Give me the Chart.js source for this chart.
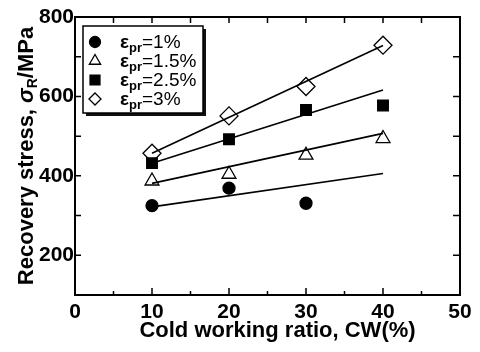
<!DOCTYPE html>
<html>
<head>
<meta charset="utf-8">
<script src="https://cdn.jsdelivr.net/npm/chart.js@4/dist/chart.umd.min.js"></script>
<style>
  html, body { margin: 0; padding: 0; background: #fff; }
  #wrap { width: 480px; height: 352px; }
</style>
</head>
<body>
<div id="wrap"><canvas id="c" width="480" height="352"></canvas></div>
<script>
// ---- data ----
const cw = [10, 20, 30, 40];
const eps1 = [325, 369, 331, null];
const eps15 = [387, 404, 452, 494];
const eps25 = [432, 492, 566, 577];
const eps3 = [457, 551, 625, 729];
const fitX = [10, 40];
const fit1 = [322, 406];
const fit15 = [381, 507];
const fit25 = [432, 616];
const fit3 = [457, 728];
const legendValues = ['1%', '1.5%', '2.5%', '3%'];
const xTickValues = [0, 10, 20, 30, 40, 50];
const yTickLabels = [200, 400, 600, 800];
const xTitle = 'Cold working ratio, CW(%)';

const FONT = '"Liberation Sans", Arial, Helvetica, sans-serif';

function pts(xs, ys) {
  const out = [];
  xs.forEach((x, i) => { if (ys[i] !== null && ys[i] !== undefined) out.push({x: x, y: ys[i]}); });
  return out;
}

const markerSets = [
  {label: legendValues[0], data: pts(cw, eps1), pointStyle: 'circle', pointRadius: 6, bg: '#000', lr: 5.5},
  {label: legendValues[1], data: pts(cw, eps15), pointStyle: 'triangle', pointRadius: 8, bg: '#fff', lr: 6.5},
  {label: legendValues[2], data: pts(cw, eps25), pointStyle: 'rect', pointRadius: 7.5, bg: '#000', lr: 7},
  {label: legendValues[3], data: pts(cw, eps3), pointStyle: 'rectRot', pointRadius: 9, bg: '#fff', lr: 6}
];
const fitSets = [fit1, fit15, fit25, fit3];

const datasets = [];
fitSets.forEach(f => {
  datasets.push({
    label: 'fit', data: pts(fitX, f), showLine: true, borderColor: '#000', borderWidth: 1.6,
    pointRadius: 0, fill: false, isFit: true
  });
});
markerSets.forEach(m => {
  datasets.push({
    label: m.label, data: m.data, showLine: false, pointStyle: m.pointStyle,
    pointRadius: m.pointRadius, pointBackgroundColor: m.bg, pointBorderColor: '#000',
    pointBorderWidth: 1.3, legendRadius: m.lr
  });
});

function drawMarker(ctx, style, r, x, y, bg) {
  ctx.save();
  ctx.fillStyle = bg; ctx.strokeStyle = '#000'; ctx.lineWidth = 1.3;
  if (Chart.helpers && Chart.helpers.drawPoint) {
    Chart.helpers.drawPoint(ctx, {pointStyle: style, radius: r, rotation: 0, borderWidth: 1.3}, x, y);
  }
  ctx.restore();
}

const framePlugin = {
  id: 'frame',
  afterDraw(chart) {
    const {ctx, chartArea: a, scales: {x, y}} = chart;
    ctx.save();
    ctx.strokeStyle = '#000';
    ctx.lineWidth = 1.5;
    for (let v = 0; v <= 50; v += 5) {
      const px = x.getPixelForValue(v);
      const major = v % 10 === 0;
      ctx.beginPath();
      ctx.moveTo(px, a.bottom); ctx.lineTo(px, a.bottom - (major ? 7 : 4));
      ctx.moveTo(px, a.top); ctx.lineTo(px, a.top + 6);
      ctx.stroke();
    }
    for (let v = 100; v <= 800; v += 100) {
      const py = y.getPixelForValue(v);
      ctx.beginPath();
      ctx.moveTo(a.left, py); ctx.lineTo(a.left + 6, py);
      ctx.moveTo(a.right, py); ctx.lineTo(a.right - 7, py);
      ctx.stroke();
    }
    ctx.lineWidth = 2;
    ctx.strokeRect(a.left, a.top, a.width, a.height);

    // legend box
    const bx = a.left + 8, by = a.top + 9, bw = 120, bh = 87;
    ctx.fillStyle = '#111';
    ctx.fillRect(bx + 3, by + 3, bw, bh);
    ctx.fillStyle = '#fff';
    ctx.fillRect(bx, by, bw, bh);
    ctx.lineWidth = 1.5;
    ctx.strokeStyle = '#000';
    ctx.strokeRect(bx, by, bw, bh);
    const mds = chart.data.datasets.filter(d => !d.isFit);
    mds.forEach((d, i) => {
      const ry = by + 16 + i * 19;
      drawMarker(ctx, d.pointStyle, d.legendRadius, bx + 12, ry, d.pointBackgroundColor);
      ctx.fillStyle = '#000';
      ctx.textBaseline = 'alphabetic';
      ctx.textAlign = 'left';
      let tx = bx + 37;
      const base = ry + 6;
      ctx.font = 'bold 19px ' + FONT;
      ctx.fillText('ε', tx, base); tx += ctx.measureText('ε').width;
      ctx.font = 'bold 13px ' + FONT;
      ctx.fillText('pr', tx, base + 4); tx += ctx.measureText('pr').width;
      ctx.font = '19px ' + FONT;
      ctx.fillText('=' + d.label, tx, base);
    });

    // x-axis title
    ctx.font = 'bold 22px ' + FONT;
    ctx.fillStyle = '#000';
    ctx.textAlign = 'center';
    ctx.textBaseline = 'middle';
    ctx.fillText(xTitle, (a.left + a.right) / 2 + 10, 331);

    // y-axis title with subscript
    const segs = [
      {t: 'Recovery stress, ', f: 'bold 22px ' + FONT, dy: 0},
      {t: 'σ', f: 'italic bold 22px ' + FONT, dy: 0},
      {t: 'R', f: 'bold 14px ' + FONT, dy: 6},
      {t: '/MPa', f: 'bold 22px ' + FONT, dy: 0}
    ];
    let W = 0;
    segs.forEach(s => { ctx.font = s.f; s.w = ctx.measureText(s.t).width; W += s.w; });
    ctx.translate(27, (a.top + a.bottom) / 2);
    ctx.rotate(-Math.PI / 2);
    ctx.textBaseline = 'middle';
    ctx.textAlign = 'left';
    let cx = -W / 2;
    segs.forEach(s => { ctx.font = s.f; ctx.fillText(s.t, cx, s.dy); cx += s.w; });
    ctx.restore();
  }
};

new Chart(document.getElementById('c'), {
  type: 'scatter',
  data: {datasets: datasets},
  options: {
    responsive: false,
    devicePixelRatio: 1,
    animation: false,
    layout: {padding: {top: 17, right: 20, left: 0, bottom: 0}},
    plugins: {legend: {display: false}, tooltip: {enabled: false}},
    scales: {
      x: {
        type: 'linear', min: 0, max: 50,
        afterFit(s) { s.height = 57; },
        afterBuildTicks(s) { s.ticks = xTickValues.map(v => ({value: v})); },
        grid: {display: false, drawTicks: false},
        border: {display: false},
        ticks: {color: '#000', padding: 5, font: {family: FONT, size: 21, weight: 'bold'}, autoSkip: false, maxRotation: 0},
        title: {display: false}
      },
      y: {
        type: 'linear', min: 100, max: 800,
        afterFit(s) { s.width = 75; },
        afterBuildTicks(s) { s.ticks = yTickLabels.map(v => ({value: v})); },
        grid: {display: false, drawTicks: false},
        border: {display: false},
        ticks: {color: '#000', padding: 1, font: {family: FONT, size: 21, weight: 'bold'}, autoSkip: false}
      }
    }
  },
  plugins: [framePlugin]
});
</script>
</body>
</html>
